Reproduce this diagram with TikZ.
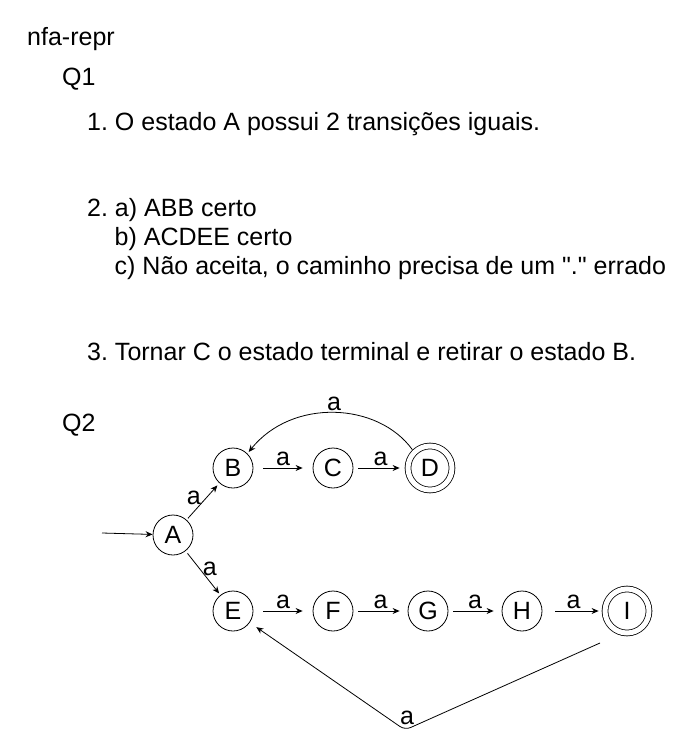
\documentclass[tikz,border=0pt]{standalone}
\usepackage{fontspec}
\setmainfont{Liberation Sans}[Ligatures=TeXOff]
\usetikzlibrary{arrows.meta}
\frenchspacing
\begin{document}
\begin{tikzpicture}[x=1pt,y=-1pt,
  every node/.style={font=\fontsize{25}{29}\selectfont},
  txt/.style={anchor=base west, inner sep=0pt},
  st/.style={circle, draw, line width=0.8pt, minimum size=40pt, inner sep=0pt},
  acc/.style={st, minimum size=44pt, double, double distance=5pt},
  lbl/.style={inner sep=0pt},
  arr/.style={line width=0.8pt, -{Stealth[length=7pt,width=6pt]}}]
\useasboundingbox (0,0) rectangle (686,754);
% texts
\node[txt] (t0) at (27,46) {nfa-repr};
\node[txt] (t1) at (62,86) {Q1};
\node[txt] (t2) at (87,131) {1. O estado A possui 2 transições iguais.};
\node[txt] (t3) at (87,216) {2. a) ABB certo};
\node[txt] (t4) at (114.5,245) {b) ACDEE certo};
\node[txt] (t5) at (114.5,274) {c) Não aceita, o caminho precisa de um "." errado};
\node[txt] (t6) at (87,360) {3. Tornar C o estado terminal e retirar o estado B.};
\node[txt] (t7) at (62,431) {Q2};
% states
\node[st] (A) at (173,535) {A};
\node[st] (B) at (233,468) {B};
\node[st] (C) at (333,468) {C};
\node[acc] (D) at (430,468) {D};
\node[st] (E) at (233,611) {E};
\node[st] (F) at (333,611) {F};
\node[st] (G) at (428,611) {G};
\node[st] (H) at (522,611) {H};
\node[acc] (I) at (627,611) {I};
\coordinate (s0) at (102,533);
\coordinate (v) at (405,730);
% edges
\draw[arr] (s0) -- (A);
\draw[arr, shorten <=2pt, shorten >=3pt] (A) -- node[lbl, pos=0.6, left=5pt] {a} (B);
\draw[arr, shorten <=3pt, shorten >=2pt] (A) -- node[lbl, pos=0.4, right=3pt] {a} (E);
\draw[arr, shorten <=10pt, shorten >=10pt] (B) -- node[lbl, above=2pt] {a} (C);
\draw[arr, shorten <=5pt, shorten >=8pt] (C) -- node[lbl, above=2pt] {a} (D);
\draw[arr, shorten <=3pt, shorten >=2pt] (D.135) .. controls (378,402) and (292,398) .. node[lbl, pos=0.5, above=2pt] {a} (B.45);
\draw[arr, shorten <=10pt, shorten >=10pt] (E) -- node[lbl, above=2pt] {a} (F);
\draw[arr, shorten <=5pt, shorten >=8pt] (F) -- node[lbl, above=2pt] {a} (G);
\draw[arr, shorten <=5pt, shorten >=8pt] (G) -- node[lbl, above=2pt] {a} (H);
\draw[arr, shorten <=13pt, shorten >=6pt] (H) -- node[lbl, above=2pt] {a} (I);
\draw[arr, rounded corners=6pt, shorten >=8pt] ([shift={(-27,32)}]I.center) -- (v) -- (E);
\node[lbl] (la) at (407,718) {a};
\end{tikzpicture}
\end{document}
